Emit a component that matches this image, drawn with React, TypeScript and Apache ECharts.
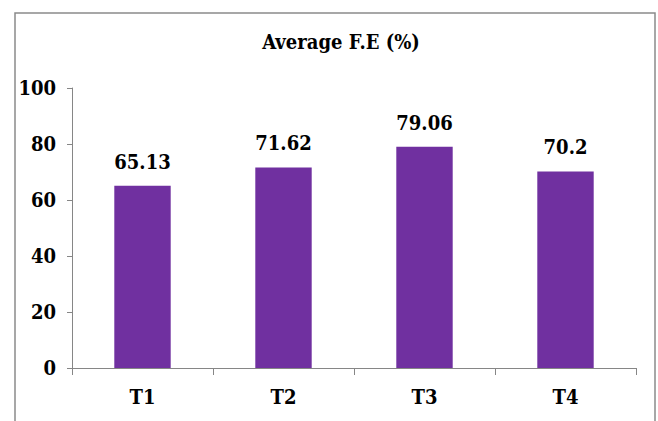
import React, { useEffect, useRef } from "react";
import * as echarts from "echarts";

const categories = ["T1", "T2", "T3", "T4"];
const averageFE = [65.13, 71.62, 79.06, 70.2];
const yTicks = { min: 0, max: 100, interval: 20 };

const FONT = "DejaVu Serif Condensed, DejaVu Serif, serif";

export default function App() {
  const ref = useRef<HTMLDivElement>(null);

  useEffect(() => {
    if (!ref.current) return;
    const chart = echarts.init(ref.current, undefined, { renderer: "svg" });
    chart.setOption({
      animation: false,
      backgroundColor: "#ffffff",
      textStyle: { fontFamily: FONT },
      title: {
        text: "Average F.E (%)",
        left: 336,
        top: 27,
        textAlign: "center",
        textStyle: { fontFamily: FONT, fontWeight: "bold", fontSize: 20, color: "#000" },
      },
      graphic: [
        {
          type: "rect",
          shape: { x: 15, y: 13, width: 640, height: 440 },
          style: { fill: "none", stroke: "#8a8a8a", lineWidth: 1.5 },
          silent: true,
        },
      ],
      grid: { left: 72, right: 22, top: 88, bottom: 53 },
      xAxis: {
        type: "category",
        data: categories,
        axisLine: { lineStyle: { color: "#868686", width: 1 } },
        axisTick: { show: true, alignWithLabel: false, length: 7, lineStyle: { color: "#868686" } },
        axisLabel: {
          margin: 19,
          fontFamily: FONT,
          fontWeight: "bold",
          fontSize: 20,
          color: "#000",
        },
      },
      yAxis: {
        type: "value",
        min: yTicks.min,
        max: yTicks.max,
        interval: yTicks.interval,
        splitLine: { show: false },
        axisLine: { show: true, lineStyle: { color: "#868686", width: 1 } },
        axisTick: { show: true, length: 5, lineStyle: { color: "#868686" } },
        axisLabel: {
          margin: 16,
          fontFamily: FONT,
          fontWeight: "bold",
          fontSize: 20,
          color: "#000",
        },
      },
      series: [
        {
          type: "bar",
          data: averageFE,
          barWidth: "40%",
          itemStyle: { color: "#7030A0" },
          label: {
            show: true,
            position: "top",
            distance: 14,
            fontFamily: FONT,
            fontWeight: "bold",
            fontSize: 20,
            color: "#000",
          },
        },
      ],
    });
    return () => chart.dispose();
  }, []);

  return (
    <div
      ref={ref}
      style={{ position: "fixed", left: 0, top: 0, width: 658, height: 421 }}
    />
  );
}
